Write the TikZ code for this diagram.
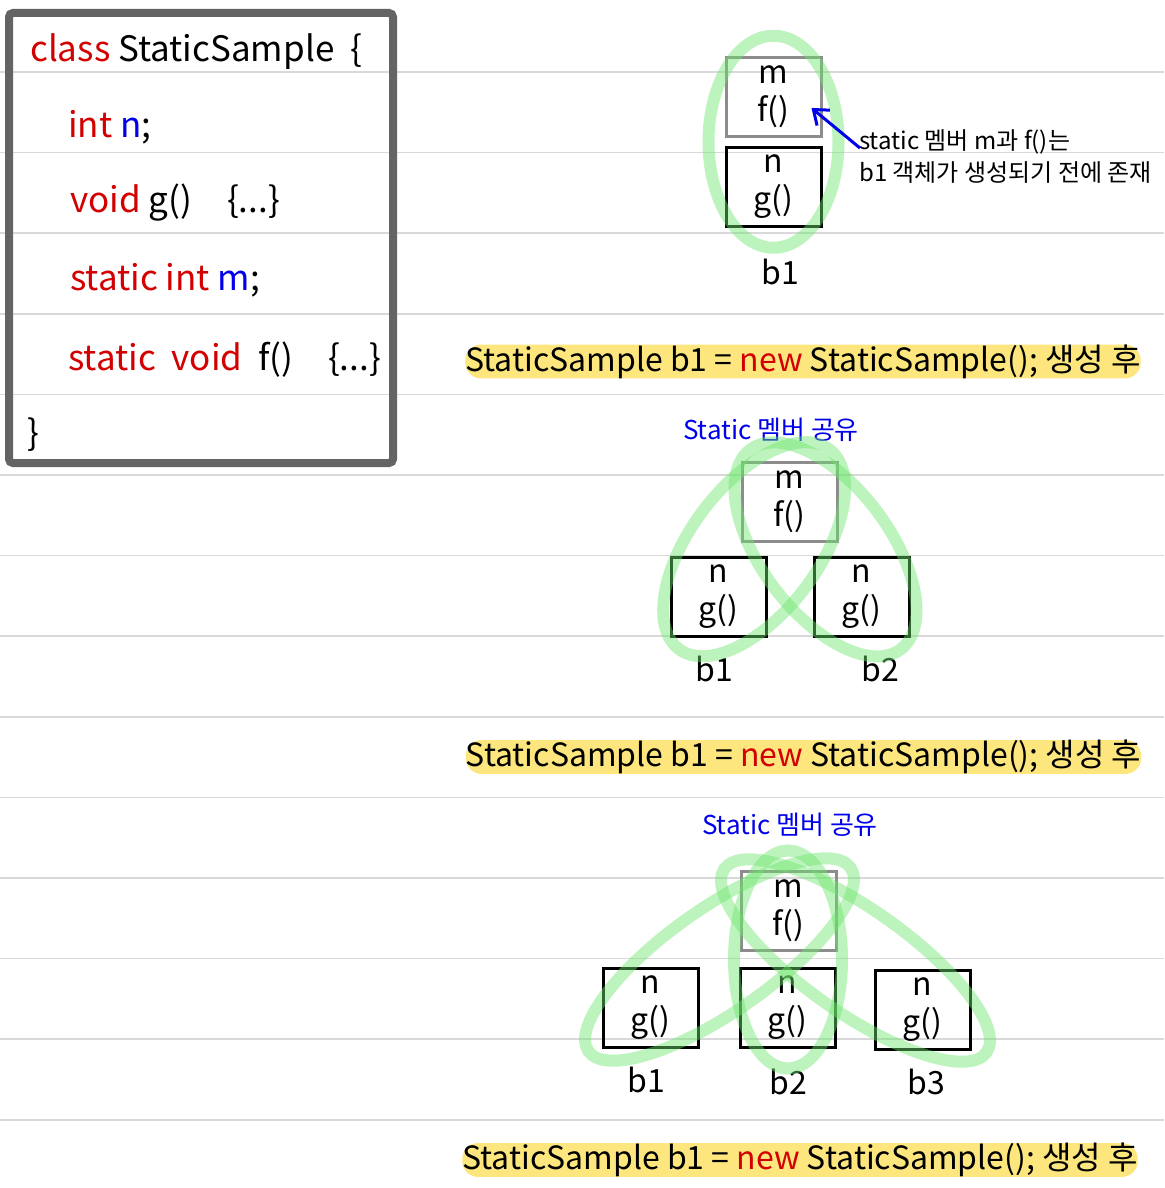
\documentclass[tikz,border=0pt]{standalone}
\usepackage{fontspec}
\setmainfont{Noto Sans CJK KR}
\usetikzlibrary{positioning,arrows.meta,calc}
\definecolor{keyred}{RGB}{210,0,0}
\definecolor{varblue}{RGB}{0,0,235}
\definecolor{rulegray}{RGB}{217,217,217}
\definecolor{framegray}{RGB}{100,100,100}
\definecolor{memgray}{RGB}{140,140,140}
\definecolor{markyellow}{RGB}{253,230,125}
\definecolor{loopgreen}{RGB}{110,230,110}

\tikzset{
  rule/.style={rulegray, line width=1.6},
  codeline/.style={anchor=base west, inner sep=0, font=\fontsize{35}{42}\selectfont},
  objbox/.style={draw, line width=3, minimum width=95, minimum height=79, align=center, inner sep=0, font=\fontsize{32}{38}\selectfont},
  staticbox/.style={objbox, draw=memgray},
  objlabel/.style={inner sep=0, font=\fontsize{32}{38}\selectfont},
  sharelabel/.style={inner sep=0, text=varblue, font=\fontsize{26}{30}\selectfont},
  codebar/.style={fill=markyellow, rounded corners=16, minimum width=674, minimum height=33, inner sep=0, font=\fontsize{32}{36}\selectfont},
  greenloop/.style={loopgreen, line width=12, opacity=0.45},
  notearrow/.style={varblue, line width=3, -{Straight Barb[length=13pt,width=20pt]}},
}

\begin{document}
\begin{tikzpicture}[x=1pt, y=-1pt]
  \fill[white] (0,0) rectangle (1164,1188);
  \useasboundingbox (0,0) rectangle (1164,1188);

  % ruled paper
  \foreach \k in {0,...,13}
    \draw[rule] (0,72+80.6*\k) -- (1164,72+80.6*\k);

  % class source
  \node[draw=framegray, line width=8, rounded corners=4, minimum width=384, minimum height=450, inner sep=0] (code) at (201,238) {};
  \node[codeline] (c1) at (30,62) {\textcolor{keyred}{class}\ StaticSample\ \ \{};
  \node[codeline] (c2) at (68,137) {\textcolor{keyred}{int} \textcolor{varblue}{n};};
  \node[codeline] (c3) at (70,212) {\textcolor{keyred}{void} g()\quad\{...\}};
  \node[codeline] (c4) at (70,290) {\textcolor{keyred}{static int} \textcolor{varblue}{m};};
  \node[codeline] (c5) at (68,370) {\textcolor{keyred}{static\ \ void}\ \ f()\quad\{...\}};
  \node[codeline] (c6) at (27,445) {\}};

  % before b1
  \node[staticbox] (m1) at (773.5,97) {m\\f()};
  \node[objbox] (n1) at (773.5,186.5) {n\\g()};
  \node[objlabel] (lab1) at (780,272) {b1};
  \draw[greenloop] ($(m1)!0.5!(n1)$) ellipse [x radius=65, y radius=106];
  \node[inner sep=0, anchor=north west, align=left, font=\fontsize{24}{32}\selectfont] (note) at (859,129) {static 멤버 m과 f()는\\b1 객체가 생성되기 전에 존재};
  \draw[notearrow] ([shift={(1,-8)}]note.west) -- ([shift={(-11,11)}]m1.east);
  \node[codebar] (bar1) at (803,361.5) {StaticSample b1 = \textcolor{keyred}{new} StaticSample(); 생성 후};

  % b1, b2
  \node[sharelabel] (share2) at (771,430) {Static 멤버 공유};
  \node[staticbox] (m2) at (789.5,501.5) {m\\f()};
  \node[objbox] (b21) at (718.5,597) {n\\g()};
  \node[objbox] (b22) at (861.5,597) {n\\g()};
  \node[objlabel] (lab21) at (714,669) {b1};
  \node[objlabel] (lab22) at (880,669) {b2};
  \coordinate (ca) at ($(m2)!0.5!(b21)$);
  \coordinate (cb) at ($(m2)!0.5!(b22)$);
  \draw[greenloop, rotate around={53:(ca)}] (ca) ellipse [x radius=125, y radius=64];
  \draw[greenloop, rotate around={-53:(cb)}] (cb) ellipse [x radius=125, y radius=64];
  \node[codebar] (bar2) at (803.5,757) {StaticSample b1 = \textcolor{keyred}{new} StaticSample(); 생성 후};

  % b1, b2, b3
  \node[sharelabel] (share3) at (790,825) {Static 멤버 공유};
  \node[staticbox] (m3) at (788.5,911) {m\\f()};
  \node[objbox] (b31) at (650.5,1008) {n\\g()};
  \node[objbox] (b32) at (787.5,1008) {n\\g()};
  \node[objbox] (b33) at (922.5,1010) {n\\g()};
  \node[objlabel] (lab31) at (646,1080) {b1};
  \node[objlabel] (lab32) at (788,1082) {b2};
  \node[objlabel] (lab33) at (926,1082) {b3};
  \coordinate (cc) at ($(m3)!0.5!(b31)$);
  \coordinate (cd) at ($(m3)!0.5!(b32)$);
  \coordinate (ce) at ($(m3)!0.5!(b33)$);
  \draw[greenloop, rotate around={35:(cc)}] (cc) ellipse [x radius=160, y radius=52];
  \draw[greenloop] (cd) ellipse [x radius=54, y radius=109];
  \draw[greenloop, rotate around={-35:(ce)}] (ce) ellipse [x radius=160, y radius=52];
  \node[codebar] (bar3) at (800,1160) {StaticSample b1 = \textcolor{keyred}{new} StaticSample(); 생성 후};
\end{tikzpicture}
\end{document}
